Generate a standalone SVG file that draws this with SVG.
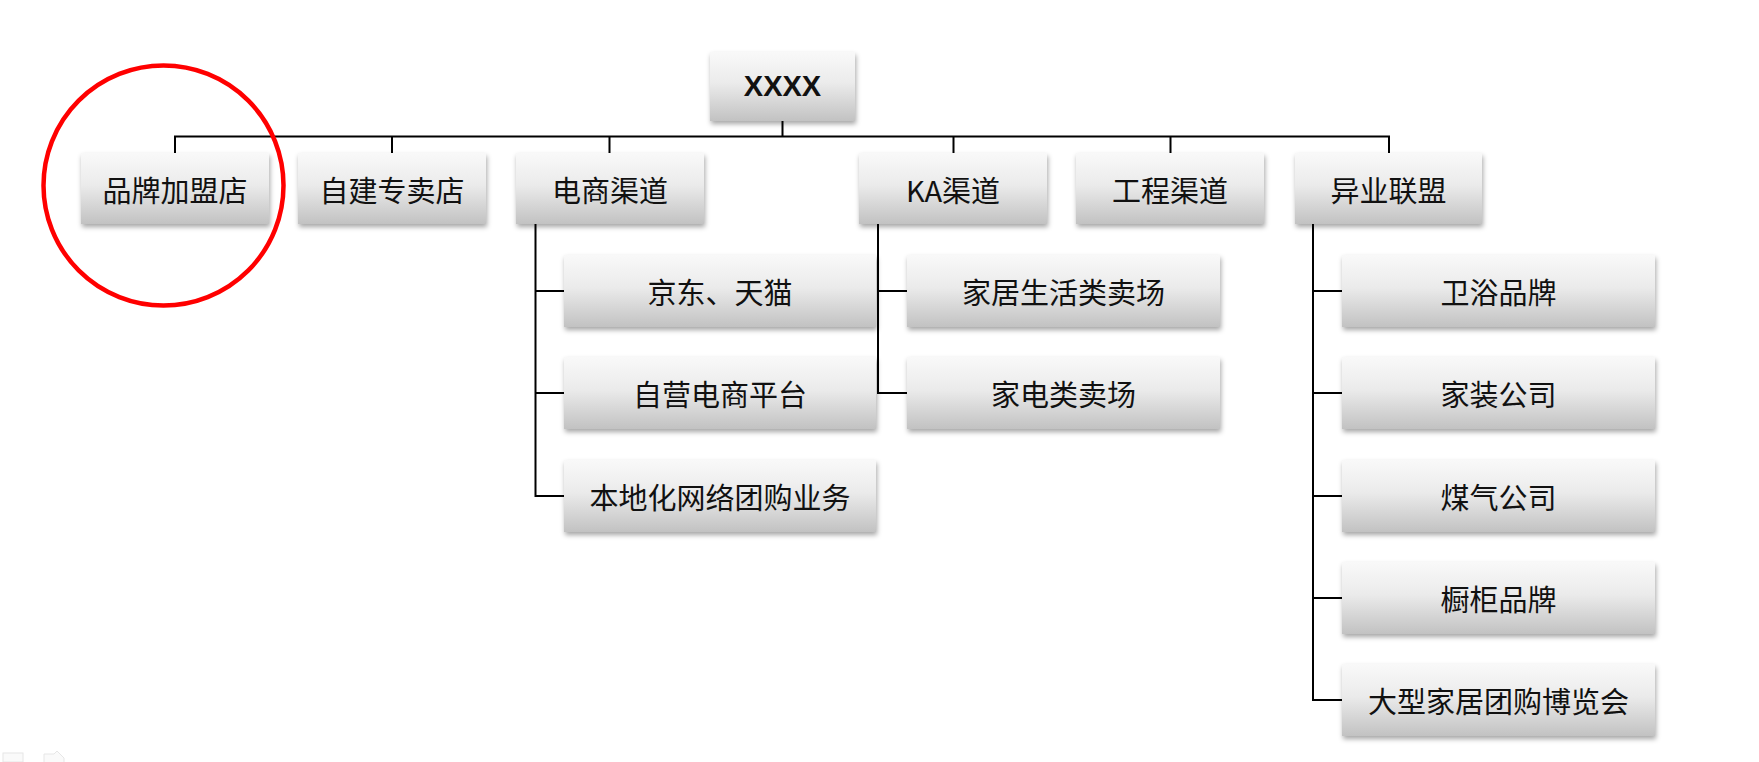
<svg xmlns="http://www.w3.org/2000/svg" width="1759" height="762" viewBox="0 0 1759 762">
<style>
.box{fill:url(#g);filter:url(#sh)}
.t{font-family:"Noto Sans CJK SC","Liberation Sans",sans-serif;font-size:29px;fill:#111;text-anchor:middle;dominant-baseline:central}
.r{font-family:"Liberation Sans",Arial,sans-serif;font-size:29px;font-weight:bold;fill:#111;text-anchor:middle;dominant-baseline:central}
.c{fill:none;stroke:#000;stroke-width:2}
</style>
<defs>
<linearGradient id="g" x1="0" y1="0" x2="0" y2="1">
<stop offset="0" stop-color="#f9f9f9"/>
<stop offset="0.45" stop-color="#ebebeb"/>
<stop offset="1" stop-color="#c2c2c2"/>
</linearGradient>
<filter id="sh" x="-10%" y="-20%" width="125%" height="150%">
<feDropShadow dx="1" dy="3" stdDeviation="2.5" flood-color="#000" flood-opacity="0.35"/>
</filter>
</defs>
<rect width="1759" height="762" fill="#fff"/>
<g id="connectors">
<path class="c" d="M782.5 121V136.5M175 153V136.5H1389V153M392 136.5V153M609.5 136.5V153M953.5 136.5V153M1170.5 136.5V153" stroke-width="2.5"/>
<path class="c" d="M535.5 224V496H564M535.5 291H564M535.5 393H564"/>
<path class="c" d="M878 224V393H907M878 291H907"/>
<path class="c" d="M1313 224V700H1342M1313 291H1342M1313 393H1342M1313 496H1342M1313 598H1342"/>
</g>
<g id="root"><rect class="box" x="710" y="52" width="145" height="69"/><text class="r" x="782.5" y="86">XXXX</text></g>
<g id="n1"><rect class="box" x="81" y="153" width="188" height="71"/><text class="t" x="175" y="188.5">品牌加盟店</text></g>
<g id="n2"><rect class="box" x="298" y="153" width="188" height="71"/><text class="t" x="392" y="188.5">自建专卖店</text></g>
<g id="n3"><rect class="box" x="516" y="153" width="188" height="71"/><text class="t" x="610" y="188.5">电商渠道</text></g>
<g id="n4"><rect class="box" x="859" y="153" width="188" height="71"/><text class="t" x="953" y="188.5">KA渠道</text></g>
<g id="n5"><rect class="box" x="1076" y="153" width="188" height="71"/><text class="t" x="1170" y="188.5">工程渠道</text></g>
<g id="n6"><rect class="box" x="1295" y="153" width="187" height="71"/><text class="t" x="1388.5" y="188.5">异业联盟</text></g>
<g id="n31"><rect class="box" x="564" y="255" width="312" height="72"/><text class="t" x="720" y="291">京东、天猫</text></g>
<g id="n32"><rect class="box" x="564" y="357" width="312" height="72"/><text class="t" x="720" y="393">自营电商平台</text></g>
<g id="n33"><rect class="box" x="564" y="460" width="312" height="72"/><text class="t" x="720" y="496">本地化网络团购业务</text></g>
<g id="n41"><rect class="box" x="907" y="255" width="313" height="72"/><text class="t" x="1063.5" y="291">家居生活类卖场</text></g>
<g id="n42"><rect class="box" x="907" y="357" width="313" height="72"/><text class="t" x="1063.5" y="393">家电类卖场</text></g>
<g id="n61"><rect class="box" x="1342" y="255" width="313" height="72"/><text class="t" x="1498.5" y="291">卫浴品牌</text></g>
<g id="n62"><rect class="box" x="1342" y="357" width="313" height="72"/><text class="t" x="1498.5" y="393">家装公司</text></g>
<g id="n63"><rect class="box" x="1342" y="460" width="313" height="72"/><text class="t" x="1498.5" y="496">煤气公司</text></g>
<g id="n64"><rect class="box" x="1342" y="562" width="313" height="72"/><text class="t" x="1498.5" y="598">橱柜品牌</text></g>
<g id="n65"><rect class="box" x="1342" y="664" width="313" height="72"/><text class="t" x="1498.5" y="700">大型家居团购博览会</text></g>
<circle id="highlight" cx="163.5" cy="185.5" r="120" fill="none" stroke="#ff0000" stroke-width="4.5"/>
<g id="artifacts" fill="#fafafa" stroke="#e6e6e6" stroke-width="1">
<rect x="3" y="753" width="20" height="9"/>
<path d="M44 762V754H54L57 751L64 758V762"/>
</g>
</svg>
